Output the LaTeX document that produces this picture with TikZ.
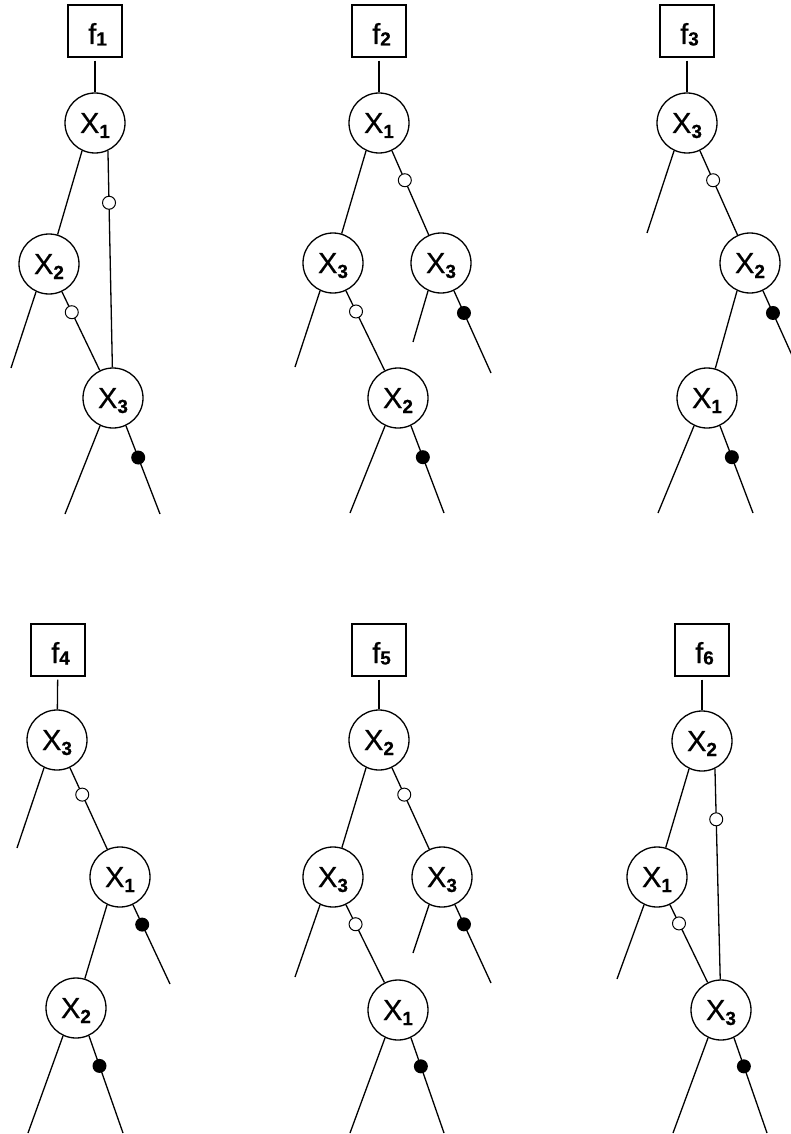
\documentclass[tikz,border=0pt]{standalone}
\usepackage{fontspec}
\setmainfont{Liberation Sans}
\newfontfamily\lblfont[FakeBold=0.5]{Liberation Sans}
\newcommand\varX[1]{X\raisebox{-5pt}{\fontsize{19}{19}\selectfont\bfseries #1}}
\newcommand\funF[1]{\hspace*{5pt}f\raisebox{-1.5pt}{\fontsize{19}{19}\selectfont\bfseries #1}}
\tikzset{
  var/.style={circle,draw,line width=1.3pt,minimum size=60pt,inner sep=0pt,
    font=\lblfont\fontsize{29}{31}\selectfont,text height=20pt,text depth=0pt},
  fbox/.style={rectangle,draw,line width=1.3pt,minimum width=54pt,minimum height=52pt,inner sep=0pt,
    font=\lblfont\fontsize{29}{31}\selectfont,text height=26pt,text depth=0pt},
  conn/.style={line width=1.3pt},
  hollow/.style={circle,draw,fill=white,line width=1pt,minimum size=13pt,inner sep=0pt},
  blackdot/.style={circle,fill=black,minimum size=14pt,inner sep=0pt}
}
\begin{document}
\begin{tikzpicture}[x=1pt,y=-1pt]
\clip (0,0) rectangle (791,1134);
% ---------- tree 1 ----------
\node[fbox] (f1) at (95,31) {\funF{1}};
\node[var] (a1) at (95,123) {\varX{1}};
\node[var] (a2) at (49,264) {\varX{2}};
\node[var] (a3) at (113,398) {\varX{3}};
\coordinate (aL2) at (11,368);
\coordinate (aL3) at (65,514);
\coordinate (aR3) at (160,514);
\draw[conn,shorten <=3pt] (f1) -- (a1);
\draw[conn] (a1.-115) -- (a2);
\draw[conn] (a1.-65) -- node[hollow,pos=0.24]{} (a3);
\draw[conn] (a2.-115) -- (aL2);
\draw[conn] (a2.-65) -- node[hollow,pos=0.26]{} (a3);
\draw[conn] (a3.-115) -- (aL3);
\draw[conn] (a3.-65) -- node[blackdot,pos=0.36]{} (aR3);
% ---------- tree 2 ----------
\node[fbox] (f2) at (379,31) {\funF{2}};
\node[var] (b1) at (379,123) {\varX{1}};
\node[var] (b3a) at (333,263) {\varX{3}};
\node[var] (b3b) at (441,263) {\varX{3}};
\node[var] (b2) at (398,398) {\varX{2}};
\coordinate (bL3a) at (295,367);
\coordinate (bL3b) at (413,342);
\coordinate (bR3b) at (491,373);
\coordinate (bL2) at (350,513);
\coordinate (bR2) at (444,513);
\draw[conn,shorten <=3pt] (f2) -- (b1);
\draw[conn] (b1.-115) -- (b3a);
\draw[conn] (b1.-65) -- node[hollow,pos=0.35]{} (b3b);
\draw[conn] (b3a.-115) -- (bL3a);
\draw[conn] (b3a.-65) -- node[hollow,pos=0.26]{} (b2);
\draw[conn] (b3b.-115) -- (bL3b);
\draw[conn] (b3b.-65) -- node[blackdot,pos=0.27]{} (bR3b);
\draw[conn] (b2.-115) -- (bL2);
\draw[conn] (b2.-65) -- node[blackdot,pos=0.36]{} (bR2);
% ---------- tree 3 ----------
\node[fbox] (f3) at (687,31) {\funF{3}};
\node[var] (c3) at (687,123) {\varX{3}};
\node[var] (c2) at (750,263) {\varX{2}};
\node[var] (c1) at (707,398) {\varX{1}};
\coordinate (cL3) at (647,233);
\coordinate (cR2) at (800,373);
\coordinate (cL1) at (658,513);
\coordinate (cR1) at (753,513);
\draw[conn,shorten <=3pt] (f3) -- (c3);
\draw[conn] (c3.-115) -- (cL3);
\draw[conn] (c3.-65) -- node[hollow,pos=0.35]{} (c2);
\draw[conn] (c2.-115) -- (c1);
\draw[conn] (c2.-65) -- node[blackdot,pos=0.27]{} (cR2);
\draw[conn] (c1.-115) -- (cL1);
\draw[conn] (c1.-65) -- node[blackdot,pos=0.36]{} (cR1);
% ---------- tree 4 ----------
\node[fbox] (f4) at (58,650) {\funF{4}};
\node[var] (d3) at (57,740) {\varX{3}};
\node[var] (d1) at (120,877) {\varX{1}};
\node[var] (d2) at (76,1008) {\varX{2}};
\coordinate (dL3) at (17,848);
\coordinate (dR1) at (170,984);
\coordinate (dL2) at (28,1133);
\coordinate (dR2) at (123,1133);
\draw[conn,shorten <=3pt] (f4) -- (d3);
\draw[conn] (d3.-115) -- (dL3);
\draw[conn] (d3.-65) -- node[hollow,pos=0.33]{} (d1);
\draw[conn] (d1.-115) -- (d2);
\draw[conn] (d1.-65) -- node[blackdot,pos=0.25]{} (dR1);
\draw[conn] (d2.-115) -- (dL2);
\draw[conn] (d2.-65) -- node[blackdot,pos=0.31]{} (dR2);
% ---------- tree 5 ----------
\node[fbox] (f5) at (379,650) {\funF{5}};
\node[var] (e2) at (379,740) {\varX{2}};
\node[var] (e3a) at (333,877) {\varX{3}};
\node[var] (e3b) at (442,877) {\varX{3}};
\node[var] (e1) at (398,1010) {\varX{1}};
\coordinate (eL3a) at (295,977);
\coordinate (eL3b) at (413,953);
\coordinate (eR3b) at (491,983);
\coordinate (eL1) at (350,1133);
\coordinate (eR1) at (444,1133);
\draw[conn,shorten <=3pt] (f5) -- (e2);
\draw[conn] (e2.-115) -- (e3a);
\draw[conn] (e2.-65) -- node[hollow,pos=0.33]{} (e3b);
\draw[conn] (e3a.-115) -- (eL3a);
\draw[conn] (e3a.-65) -- node[hollow,pos=0.25]{} (e1);
\draw[conn] (e3b.-115) -- (eL3b);
\draw[conn] (e3b.-65) -- node[blackdot,pos=0.25]{} (eR3b);
\draw[conn] (e1.-115) -- (eL1);
\draw[conn] (e1.-65) -- node[blackdot,pos=0.30]{} (eR1);
% ---------- tree 6 ----------
\node[fbox] (f6) at (702,650) {\funF{6}};
\node[var] (g2) at (702,741) {\varX{2}};
\node[var] (g1) at (657,877) {\varX{1}};
\node[var] (g3) at (721,1010) {\varX{3}};
\coordinate (gL1) at (617,979);
\coordinate (gL3) at (673,1133);
\coordinate (gR3) at (767,1133);
\draw[conn,shorten <=3pt] (f6) -- (g2);
\draw[conn] (g2.-115) -- (g1);
\draw[conn] (g2.-65) -- node[hollow,pos=0.24]{} (g3);
\draw[conn] (g1.-115) -- (gL1);
\draw[conn] (g1.-65) -- node[hollow,pos=0.24]{} (g3);
\draw[conn] (g3.-115) -- (gL3);
\draw[conn] (g3.-65) -- node[blackdot,pos=0.30]{} (gR3);
\end{tikzpicture}
\end{document}
